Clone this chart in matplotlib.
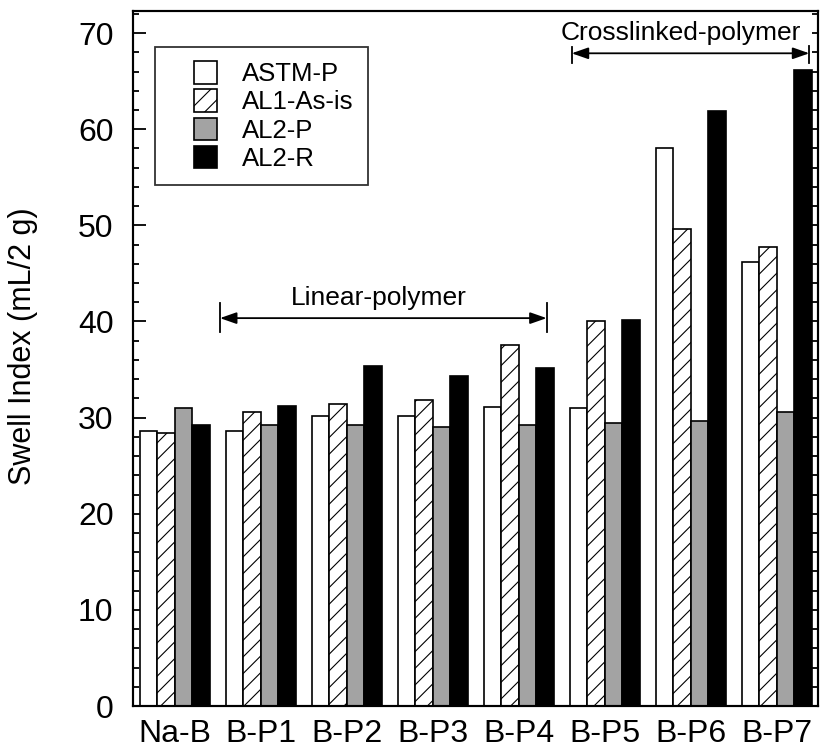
import numpy as np
import matplotlib
matplotlib.use('Agg')
import matplotlib.pyplot as plt
import matplotlib.patches as mpatches
from matplotlib.legend_handler import HandlerPatch
from matplotlib.ticker import MultipleLocator

plt.rcParams['font.family'] = ['Liberation Sans', 'DejaVu Sans']
plt.rcParams['hatch.linewidth'] = 0.8

# Data
samples = ['Na-B', 'B-P1', 'B-P2', 'B-P3', 'B-P4', 'B-P5', 'B-P6', 'B-P7']
astm_p = [28.6, 28.6, 30.2, 30.2, 31.1, 31.0, 58.0, 46.2]
al1_as_is = [28.4, 30.6, 31.4, 31.8, 37.6, 40.0, 49.6, 47.8]
al2_p = [31.0, 29.2, 29.2, 29.0, 29.2, 29.4, 29.6, 30.6]
al2_r = [29.2, 31.2, 35.4, 34.3, 35.2, 40.2, 61.9, 66.2]

series = [astm_p, al1_as_is, al2_p, al2_r]
labels = ['ASTM-P', 'AL1-As-is', 'AL2-P', 'AL2-R']
faces = ['white', 'white', '#a3a3a3', 'black']
hatches = [None, '//', None, None]

fig = plt.figure(figsize=(8.22, 7.51), dpi=100)
ax = fig.add_axes([133 / 822, 45 / 751, 685 / 822, 695 / 751])

x = np.arange(len(samples))
w = 0.2035
for j, vals in enumerate(series):
    ax.bar(x + (j - 1.5) * w, vals, width=w, color=faces[j], edgecolor='black',
           linewidth=1.2, hatch=hatches[j], zorder=2)

ax.set_xlim(-0.488, 7.477)
ax.set_ylim(0, 72.3)
ax.set_xticks(x)
ax.set_xticklabels(samples, fontsize=23)
ax.tick_params(axis='x', length=0, pad=9)

ax.yaxis.set_major_locator(MultipleLocator(10))
ax.yaxis.set_minor_locator(MultipleLocator(2))
ax.tick_params(axis='y', which='major', direction='in', length=9, width=1.3,
               labelsize=23, pad=14)
ax.tick_params(axis='y', which='minor', direction='in', length=4.5, width=1.3)
ax.set_ylabel('Swell Index (mL/2 g)', fontsize=22)
ax.yaxis.set_label_coords(-0.138, 0.518)

# right side ticks, all short
ax2 = ax.twinx()
ax2.set_ylim(ax.get_ylim())
ax2.yaxis.set_major_locator(MultipleLocator(2))
ax2.tick_params(axis='y', direction='in', length=4.5, width=1.3, labelright=False)

for a in (ax, ax2):
    for s in a.spines.values():
        s.set_linewidth(1.5)

# group annotations
arrow = dict(arrowstyle='<|-|>,head_length=1.0,head_width=0.35',
             color='black', lw=1.3, shrinkA=0, shrinkB=0)
ax.annotate('', xy=(0.523, 40.35), xytext=(4.322, 40.35), arrowprops=arrow)
ax.plot([0.523, 0.523], [38.9, 41.9], color='black', lw=1.3)
ax.plot([4.322, 4.322], [38.9, 41.9], color='black', lw=1.3)
ax.text(2.372, 42.45, 'Linear-polymer', fontsize=19, ha='center', va='center')

ax.annotate('', xy=(4.613, 67.9), xytext=(7.376, 67.9), arrowprops=arrow)
ax.plot([4.613, 4.613], [66.9, 68.6], color='black', lw=1.3)
ax.plot([7.376, 7.376], [66.9, 68.7], color='black', lw=1.3)
ax.text(5.884, 70.0, 'Crosslinked-polymer', fontsize=19, ha='center', va='center')


# legend: square handle sits at the right end of a longer handle box
def square_patch(legend, orig_handle, xdescent, ydescent, width, height, fontsize):
    side = height
    return mpatches.Rectangle((-xdescent + width - side, -ydescent), side, height)


proxies = [mpatches.Patch(facecolor=faces[j], edgecolor='black', linewidth=1.2,
                          hatch=hatches[j]) for j in range(4)]
leg = ax.legend(proxies, labels, loc='upper left', bbox_to_anchor=(0.032, 0.948),
                borderaxespad=0, fontsize=18.5, frameon=True, fancybox=False,
                edgecolor='black', handlelength=1.85, handleheight=0.97,
                handletextpad=1.0, labelspacing=0.12, borderpad=0.55,
                handler_map={mpatches.Patch: HandlerPatch(patch_func=square_patch)})
leg.get_frame().set_linewidth(1.3)
leg.set_zorder(5)

fig.savefig('out.png', dpi=100)
